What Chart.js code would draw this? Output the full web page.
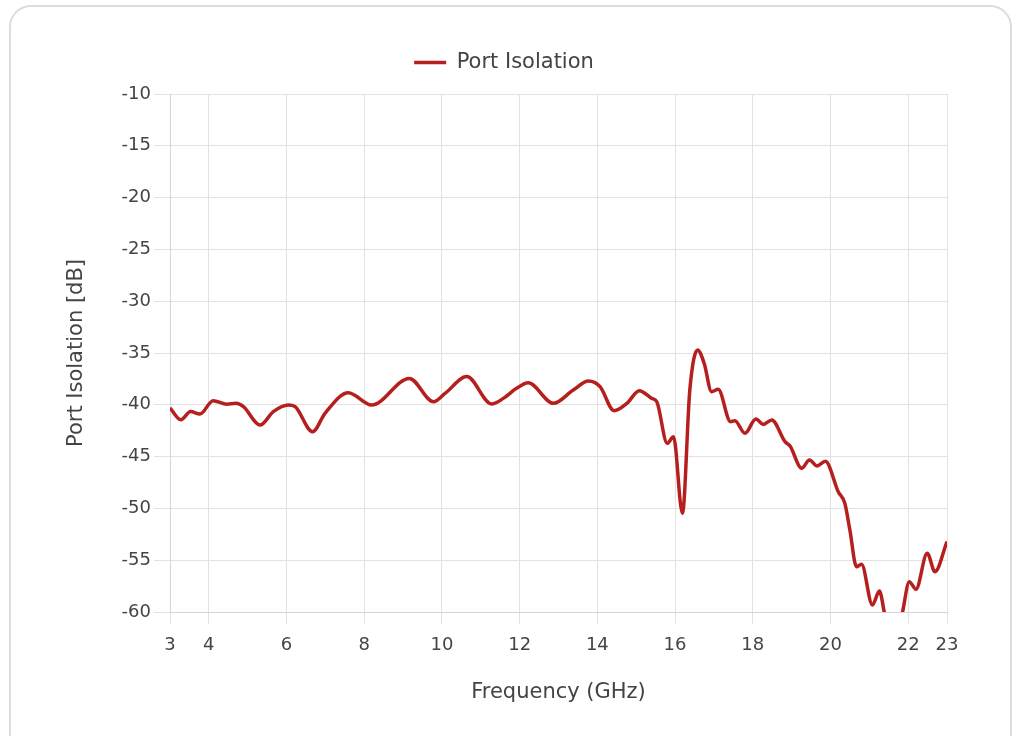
<!DOCTYPE html>
<html>
<head>
<meta charset="utf-8">
<script src="https://cdn.jsdelivr.net/npm/chart.js@4"></script>
<style>
  html, body { margin: 0; padding: 0; background: #fff; }
  #card { position: absolute; left: 9px; top: 5px; width: 1003px; height: 780px;
          border: 2px solid #dcdcdc; border-radius: 22px; box-sizing: border-box; }
  #c { position: absolute; left: 0; top: 0; }
</style>
</head>
<body>
<div id="card"></div>
<canvas id="c" width="1032" height="736"></canvas>
<script>
const freqGHz = [3.0, 3.28, 3.53, 3.77, 4.11, 4.46, 4.70, 4.89, 5.32, 5.66, 6.05, 6.22, 6.67, 6.99, 7.59, 8.19, 9.16, 9.78, 10.08, 10.64, 11.28, 11.58, 11.92, 12.22, 12.87, 13.38, 13.77, 14.07, 14.43, 14.76, 15.08, 15.40, 15.53, 15.80, 15.96, 16.19, 16.38, 16.58, 16.75, 16.94, 17.11, 17.43, 17.54, 17.80, 18.08, 18.27, 18.49, 18.83, 18.96, 19.26, 19.46, 19.65, 19.87, 20.20, 20.37, 20.50, 20.67, 20.80, 21.08, 21.26, 21.40, 21.62, 21.85, 22.03, 22.20, 22.49, 22.69, 23.0];
const isolationDb = [-40.3, -41.45, -40.65, -40.9, -39.6, -39.95, -39.86, -40.18, -41.95, -40.66, -40.02, -40.18, -42.6, -40.82, -38.83, -40.02, -37.45, -39.7, -38.9, -37.28, -39.92, -39.38, -38.41, -37.87, -39.86, -38.57, -37.7, -38.25, -40.57, -39.86, -38.64, -39.38, -39.7, -43.72, -43.08, -50.48, -38.57, -34.71, -36.0, -38.73, -38.5, -41.63, -41.53, -42.75, -41.37, -41.89, -41.47, -43.56, -43.98, -46.13, -45.33, -45.9, -45.45, -48.39, -49.51, -52.09, -55.63, -55.4, -59.32, -57.97, -60.3, -63.5, -60.1, -57.07, -57.81, -54.34, -56.11, -53.2];
const xTickValues = [3, 4, 6, 8, 10, 12, 14, 16, 18, 20, 22, 23];
const yMin = -60, yMax = -10, yStep = 5;

const FONT = "'DejaVu Sans', 'Noto Sans', sans-serif";
const TEXT = '#444';
const GRID = '#e2e2e2';
const RED = '#b5201f';

const legendGap = {
  id: 'legendGap',
  afterInit(chart) {
    const lg = chart.legend;
    if (!lg) return;
    const orig = lg.fit;
    lg.fit = function () { orig.call(this); this.height += 11; };
  }
};

new Chart(document.getElementById('c'), {
  type: 'line',
  data: {
    datasets: [{
      label: 'Port Isolation',
      data: freqGHz.map((f, i) => ({ x: f, y: isolationDb[i] })),
      borderColor: RED,
      backgroundColor: RED,
      borderWidth: 3.5,
      pointRadius: 0,
      cubicInterpolationMode: 'monotone',
      fill: false,
      clip: 0
    }]
  },
  plugins: [legendGap],
  options: {
    responsive: false,
    animation: false,
    layout: { padding: { left: 61, right: 85, top: 42, bottom: 28 } },
    plugins: {
      legend: {
        position: 'top',
        labels: {
          font: { family: FONT, size: 21 },
          color: TEXT,
          usePointStyle: true,
          pointStyle: 'line',
          pointStyleWidth: 32,
          boxHeight: 21,
          padding: 10
        }
      },
      tooltip: { enabled: false }
    },
    scales: {
      x: {
        type: 'linear',
        min: 3, max: 23,
        afterBuildTicks: (s) => { s.ticks = xTickValues.map(v => ({ value: v })); },
        afterFit: (s) => { s.height = 96; },
        grid: { color: GRID, lineWidth: 1, tickLength: 12, drawTicks: true },
        border: { color: '#d5d5d5', width: 1 },
        ticks: { color: TEXT, font: { family: FONT, size: 18 }, padding: 11, maxRotation: 0, autoSkip: false },
        title: { display: true, text: 'Frequency (GHz)', color: TEXT, font: { family: FONT, size: 21 }, padding: { top: 4, bottom: 3 } }
      },
      y: {
        min: yMin, max: yMax,
        afterFit: (s) => { s.width = 109; },
        ticks: { stepSize: yStep, color: TEXT, font: { family: FONT, size: 18 }, padding: 3 },
        grid: { color: GRID, lineWidth: 1, tickLength: 16 },
        border: { color: '#d5d5d5', width: 1 },
        title: { display: true, text: 'Port Isolation [dB]', color: TEXT, font: { family: FONT, size: 21 }, padding: { top: 3, bottom: 4 } }
      }
    }
  }
});
</script>
</body>
</html>
